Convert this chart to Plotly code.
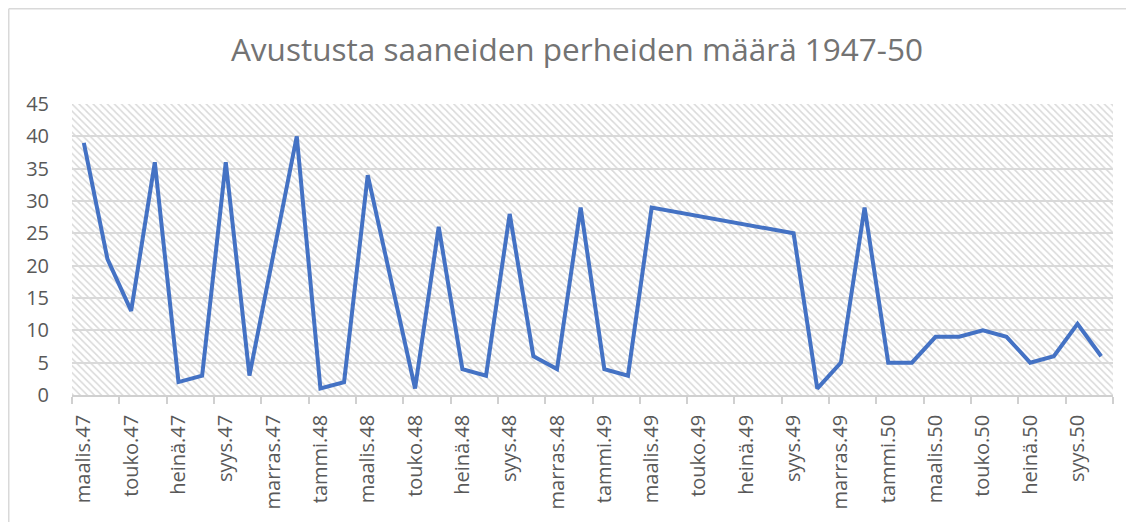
import plotly.graph_objects as go

# Monthly categories, maalis.47 (Mar 1947) ... loka.50 (Oct 1950)
categories = [
    "maalis.47", "huhti.47", "touko.47", "kesä.47", "heinä.47", "elo.47", "syys.47", "loka.47", "marras.47", "joulu.47",
    "tammi.48", "helmi.48", "maalis.48", "huhti.48", "touko.48", "kesä.48", "heinä.48", "elo.48", "syys.48", "loka.48", "marras.48", "joulu.48",
    "tammi.49", "helmi.49", "maalis.49", "huhti.49", "touko.49", "kesä.49", "heinä.49", "elo.49", "syys.49", "loka.49", "marras.49", "joulu.49",
    "tammi.50", "helmi.50", "maalis.50", "huhti.50", "touko.50", "kesä.50", "heinä.50", "elo.50", "syys.50", "loka.50",
]
# Number of families (None = no data for that month)
families = [
    39, 21, 13, 36, 2, 3, 36, 3, None, 40,
    1, 2, 34, None, 1, 26, 4, 3, 28, 6, 4, 29,
    4, 3, 29, None, None, None, None, None, 25, 1, 5, 29,
    5, 5, 9, 9, 10, 9, 5, 6, 11, 6,
]
y_max = 45
y_step = 5
title_text = "Avustusta saaneiden perheiden määrä 1947-50"

n = len(categories)
idx = list(range(n))

# page has an 8px body margin, so the figure is offset by 8px
W, H = 1126, 514
L, R, T, B = 64, 21, 96, 127

fig = go.Figure()

# hatched plot-area background
fig.add_trace(go.Bar(
    x=[(n - 1) / 2], y=[y_max], width=[n], base=0,
    marker=dict(color="rgba(0,0,0,0)", line=dict(width=0),
                pattern=dict(shape="\\", fgcolor="#d9d9d9", bgcolor="rgba(0,0,0,0)",
                             size=5, solidity=0.3, fillmode="replace")),
    hoverinfo="skip", showlegend=False,
))

fig.add_trace(go.Scatter(
    x=idx, y=families, mode="lines", connectgaps=True,
    line=dict(color="#4472C4", width=4),
    showlegend=False,
))

tick_font = dict(family="Open Sans", size=20, color="#595959")

fig.update_layout(
    width=W, height=H,
    margin=dict(l=L, r=R, t=T, b=B, pad=0, autoexpand=False),
    paper_bgcolor="white", plot_bgcolor="white",
    title=dict(text=title_text, x=569 / W, xref="container", xanchor="center",
               y=1 - 42 / H, yref="container", yanchor="middle",
               font=dict(family="Open Sans", size=31.5, color="#737373")),
    bargap=0,
)

fig.update_xaxes(
    range=[-0.5, n - 0.5], automargin=False,
    tickmode="array", tickvals=idx[::2], ticktext=categories[::2],
    tickangle=-90, ticks="", tickfont=tick_font, ticklabelstandoff=10,
    showgrid=False, zeroline=False,
    showline=True, linecolor="#d0d0d0", linewidth=1.5,
    minor=dict(tickmode="array", tickvals=[i - 0.5 for i in range(0, n + 1, 2)],
               ticks="outside", ticklen=7, tickcolor="#d0d0d0", tickwidth=1.5,
               showgrid=False),
)
fig.update_yaxes(
    range=[0, y_max], automargin=False, tickmode="linear", tick0=0, dtick=y_step,
    tickfont=tick_font, ticks="", ticklabelstandoff=22,
    showgrid=True, gridcolor="#d9d9d9", gridwidth=1.5,
    zeroline=False, showline=False,
)

# chart-area frame (top and left edges)
px2x = lambda p: (p - L) / (W - L - R)
px2y = lambda p: (H - B - p) / (H - T - B)
fig.add_shape(type="line", xref="paper", yref="paper",
              x0=px2x(0.75), x1=px2x(W + 5), y0=px2y(0.75), y1=px2y(0.75),
              line=dict(color="#d9d9d9", width=1.5))
fig.add_shape(type="line", xref="paper", yref="paper",
              x0=px2x(0.75), x1=px2x(0.75), y0=px2y(0.75), y1=px2y(H + 5),
              line=dict(color="#d9d9d9", width=1.5))

fig.write_html("out.html")
